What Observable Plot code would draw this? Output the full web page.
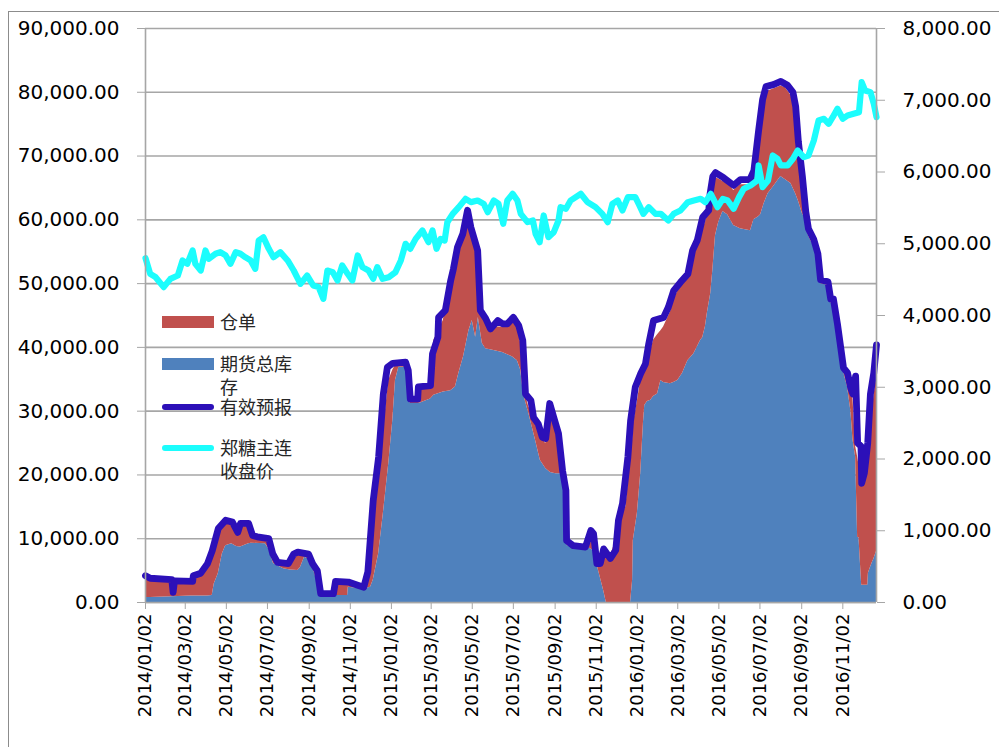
<!DOCTYPE html>
<html><head><meta charset="utf-8">
<script src="https://cdn.jsdelivr.net/npm/d3@7"></script>
<script src="https://cdn.jsdelivr.net/npm/@observablehq/plot@0.6"></script>
<style>
body{margin:0;background:#fff;}
#wrap{position:relative;width:999px;height:747px;overflow:hidden;font-family:"DejaVu Sans",sans-serif;}
#border{position:absolute;left:8px;top:11px;width:1100px;height:900px;border:1px solid #8c8c8c;box-sizing:border-box;}
#chart{position:absolute;left:0;top:0;}
.lg-sw{position:absolute;left:162px;width:52px;}
.lg-tx{position:absolute;left:220px;width:76px;font-family:"Noto Sans CJK SC",sans-serif;font-size:18px;line-height:24px;color:#262626;word-break:break-all;}
</style></head>
<body><div id="wrap"><div id="border"></div><div id="chart"></div><div id="legend"></div></div>
<script>
// ---- x-axis tick labels ----
const tickLabels = ["2014/01/02","2014/03/02","2014/05/02","2014/07/02","2014/09/02","2014/11/02",
"2015/01/02","2015/03/02","2015/05/02","2015/07/02","2015/09/02","2015/11/02",
"2016/01/02","2016/03/02","2016/05/02","2016/07/02","2016/09/02","2016/11/02"];
const leftTicks = [0,10000,20000,30000,40000,50000,60000,70000,80000,90000];
const rightTicks = [0,1000,2000,3000,4000,5000,6000,7000,8000];
const xStart = "2014-01-02", xEnd = "2016-12-22";

// ---- stacked areas: dates, 期货总库存 (bottom), 仓单 (stacked on top) ----
const areaDates = ["2014-01-02","2014-01-09","2014-02-10","2014-03-10","2014-03-14","2014-03-25","2014-04-04","2014-04-11","2014-04-14","2014-04-20","2014-04-26","2014-05-01","2014-05-10","2014-05-17","2014-05-23","2014-06-04","2014-06-08","2014-06-29","2014-07-04","2014-07-11","2014-07-26","2014-08-05","2014-08-16","2014-08-20","2014-08-26","2014-09-02","2014-09-08","2014-09-16","2014-09-20","2014-10-08","2014-10-13","2014-10-29","2014-10-30","2014-11-22","2014-12-02","2014-12-06","2014-12-14","2014-12-21","2014-12-29","2015-01-04","2015-01-08","2015-01-13","2015-01-23","2015-01-27","2015-01-30","2015-02-10","2015-02-14","2015-03-01","2015-03-06","2015-03-20","2015-03-31","2015-04-07","2015-04-12","2015-04-19","2015-04-27","2015-05-02","2015-05-07","2015-05-11","2015-05-17","2015-05-22","2015-06-03","2015-06-16","2015-07-01","2015-07-08","2015-07-13","2015-07-17","2015-07-25","2015-08-04","2015-08-11","2015-08-19","2015-08-26","2015-09-03","2015-09-10","2015-09-15","2015-09-18","2015-09-20","2015-10-20","2015-10-28","2015-11-03","2015-11-13","2015-11-17","2015-11-23","2015-12-01","2015-12-08","2015-12-16","2015-12-23","2015-12-26","2015-12-27","2016-01-02","2016-01-07","2016-01-11","2016-01-13","2016-01-17","2016-01-22","2016-01-26","2016-02-01","2016-02-06","2016-02-10","2016-02-20","2016-02-25","2016-03-02","2016-03-09","2016-03-17","2016-03-26","2016-04-05","2016-04-08","2016-04-12","2016-04-15","2016-04-20","2016-04-23","2016-04-27","2016-05-02","2016-05-08","2016-05-15","2016-05-24","2016-06-03","2016-06-18","2016-06-23","2016-06-30","2016-07-03","2016-07-08","2016-07-14","2016-07-22","2016-08-02","2016-08-09","2016-08-17","2016-08-24","2016-08-28","2016-09-03","2016-09-08","2016-09-12","2016-09-20","2016-09-26","2016-09-30","2016-10-11","2016-10-15","2016-10-19","2016-10-25","2016-10-30","2016-11-03","2016-11-09","2016-11-14","2016-11-17","2016-11-21","2016-11-24","2016-11-26","2016-11-30","2016-12-03","2016-12-09","2016-12-10","2016-12-13","2016-12-16","2016-12-18","2016-12-22"];
const totalStock = [800,800,900,1000,1000,1000,1000,1100,2900,4500,7600,8900,9200,8800,8700,9200,9300,9200,8400,6100,5300,5100,5000,5500,7100,6800,5300,2400,1100,1100,1100,1100,2400,2100,2400,3500,7600,13900,21700,28500,34800,36900,36900,34800,31200,31200,31300,31900,32500,33000,33200,33800,35900,38500,42600,44200,41600,44700,40600,39800,39500,39200,38500,37900,36400,32700,29600,25400,22300,21000,20400,20200,20200,20200,9700,8900,8700,8200,6000,1900,0,0,0,0,0,0,3500,9700,13900,20200,28000,30900,31500,31700,32300,32700,34800,34500,34300,34500,34800,35900,37900,39000,41100,41500,43200,45400,48500,52000,57500,59700,61300,60800,59100,58600,58300,60000,60500,60800,62500,64100,65200,66800,66300,65700,64100,63000,61000,60000,57500,55800,53800,50000,49700,47000,46800,43000,39300,36200,33800,30000,25600,22800,10200,10200,2700,2700,2700,4600,5500,6300,6800,8000];
const receipts = [3000,2800,2500,2300,3100,3500,4800,6700,5900,6500,4400,3700,3100,2000,3500,3000,900,700,1300,700,700,800,2600,2100,400,600,500,600,200,200,1900,1900,500,200,4700,7800,11500,13100,13100,7900,2400,600,600,1200,600,700,2200,1900,8600,11200,16800,19300,19800,19800,18400,14600,14100,5800,4700,3900,3700,4000,5500,5300,4200,1100,1000,3600,4200,3900,10200,7800,4200,300,200,200,200,1500,100,5700,7400,7300,9700,13400,15000,22800,22000,18300,17600,14600,8200,5900,5900,7800,8800,9300,7800,8700,11200,12900,14000,13900,13100,16200,16900,17300,16300,15600,15000,14000,9100,6700,4700,5000,5500,6900,7200,6800,11500,15200,16500,16100,15300,14200,14400,13800,12900,9000,5000,800,500,500,500,500,400,400,500,500,500,500,1700,3500,6600,1700,12600,11300,17900,16300,18500,18900,21700,24200,25400,27500];

// ---- 有效预报 ----
const forecastDates = ["2014-01-02","2014-01-09","2014-02-10","2014-02-12","2014-02-14","2014-03-13","2014-03-14","2014-03-25","2014-04-04","2014-04-11","2014-04-20","2014-05-01","2014-05-11","2014-05-19","2014-05-23","2014-06-04","2014-06-10","2014-06-17","2014-07-04","2014-07-10","2014-07-17","2014-08-02","2014-08-10","2014-08-16","2014-09-01","2014-09-07","2014-09-14","2014-09-19","2014-10-08","2014-10-11","2014-10-30","2014-11-13","2014-11-22","2014-11-28","2014-12-06","2014-12-14","2014-12-21","2014-12-27","2015-01-04","2015-01-23","2015-01-27","2015-01-30","2015-02-10","2015-02-11","2015-03-01","2015-03-04","2015-03-12","2015-03-13","2015-03-23","2015-03-31","2015-04-04","2015-04-10","2015-04-18","2015-04-25","2015-04-30","2015-05-10","2015-05-14","2015-05-22","2015-05-29","2015-06-09","2015-06-16","2015-06-23","2015-07-02","2015-07-10","2015-07-16","2015-07-20","2015-07-28","2015-08-01","2015-08-08","2015-08-14","2015-08-19","2015-08-25","2015-08-31","2015-09-07","2015-09-13","2015-09-18","2015-09-19","2015-09-29","2015-10-17","2015-10-25","2015-10-29","2015-11-03","2015-11-08","2015-11-13","2015-11-23","2015-12-01","2015-12-05","2015-12-11","2015-12-19","2015-12-23","2015-12-30","2016-01-07","2016-01-14","2016-01-19","2016-01-26","2016-02-10","2016-02-17","2016-02-25","2016-03-06","2016-03-17","2016-03-24","2016-03-31","2016-04-08","2016-04-17","2016-04-19","2016-04-23","2016-04-27","2016-05-09","2016-05-24","2016-06-03","2016-06-17","2016-06-23","2016-06-30","2016-07-06","2016-07-11","2016-07-22","2016-08-02","2016-08-12","2016-08-20","2016-08-24","2016-08-28","2016-09-03","2016-09-08","2016-09-12","2016-09-20","2016-09-26","2016-09-30","2016-10-11","2016-10-15","2016-10-19","2016-10-25","2016-10-30","2016-11-03","2016-11-09","2016-11-14","2016-11-17","2016-11-21","2016-11-24","2016-11-29","2016-11-30","2016-12-04","2016-12-09","2016-12-13","2016-12-18","2016-12-22"];
const forecast = [4200,3800,3600,1600,3400,3300,4200,4600,6100,8100,11600,12900,12600,11000,12400,12400,10500,10300,10000,7600,6300,6100,7600,7900,7600,6100,5000,1400,1400,3300,3200,2700,2400,4800,16000,22800,32700,36900,37500,37700,36400,31900,31900,33800,34000,39000,41600,44700,45800,50500,52300,55700,57800,61500,58800,55200,45800,44500,42900,44200,43700,43700,44700,43400,41100,32700,31700,29000,28000,25900,25700,31200,29000,26500,20700,17600,9700,8900,8700,11300,10800,6100,6100,8400,6900,8200,12900,15500,22800,28500,33800,35900,37400,40600,44200,44700,46300,48900,50200,51500,55200,56800,60400,61500,64100,66800,67400,66600,65400,66300,66300,67700,74000,78900,80900,81200,81700,81100,80000,77800,72300,66800,61300,58600,56900,54700,50600,50300,47600,47600,43700,39900,36800,36000,33500,32700,35500,25000,24500,18700,20300,25000,32700,36000,40400];

// ---- 郑糖主连收盘价 (right axis) ----
const priceDates = ["2014-01-02","2014-01-09","2014-01-17","2014-01-29","2014-02-08","2014-02-19","2014-02-26","2014-03-05","2014-03-13","2014-03-17","2014-03-25","2014-04-01","2014-04-06","2014-04-16","2014-04-23","2014-05-01","2014-05-08","2014-05-16","2014-05-23","2014-05-30","2014-06-07","2014-06-14","2014-06-19","2014-06-26","2014-07-04","2014-07-11","2014-07-21","2014-08-01","2014-08-10","2014-08-20","2014-08-30","2014-09-08","2014-09-16","2014-09-23","2014-09-29","2014-10-07","2014-10-14","2014-10-21","2014-10-29","2014-11-05","2014-11-13","2014-11-20","2014-11-29","2014-12-06","2014-12-12","2014-12-20","2014-12-29","2015-01-08","2015-01-16","2015-01-23","2015-01-30","2015-02-07","2015-02-17","2015-02-26","2015-03-04","2015-03-10","2015-03-16","2015-03-22","2015-03-26","2015-04-03","2015-04-12","2015-04-22","2015-04-30","2015-05-10","2015-05-19","2015-05-25","2015-06-03","2015-06-10","2015-06-17","2015-06-23","2015-07-01","2015-07-08","2015-07-13","2015-07-23","2015-07-31","2015-08-04","2015-08-10","2015-08-16","2015-08-23","2015-08-31","2015-09-07","2015-09-10","2015-09-18","2015-09-25","2015-10-10","2015-10-20","2015-11-01","2015-11-11","2015-11-19","2015-11-26","2015-12-04","2015-12-11","2015-12-19","2015-12-26","2015-12-30","2016-01-04","2016-01-11","2016-01-19","2016-01-29","2016-02-06","2016-02-17","2016-02-25","2016-03-06","2016-03-17","2016-03-26","2016-04-05","2016-04-12","2016-04-20","2016-04-30","2016-05-08","2016-05-15","2016-05-24","2016-06-01","2016-06-08","2016-06-18","2016-06-28","2016-06-30","2016-07-06","2016-07-14","2016-07-21","2016-07-28","2016-08-02","2016-08-12","2016-08-20","2016-08-27","2016-09-05","2016-09-12","2016-09-20","2016-09-27","2016-10-05","2016-10-12","2016-10-18","2016-10-25","2016-11-02","2016-11-09","2016-11-18","2016-11-26","2016-11-30","2016-12-05","2016-12-13","2016-12-18","2016-12-22"];
const price = [4800,4581,4534,4395,4511,4557,4767,4720,4906,4720,4627,4906,4790,4860,4883,4837,4720,4883,4860,4813,4767,4650,5045,5091,4929,4813,4883,4767,4627,4441,4557,4418,4395,4232,4627,4604,4488,4697,4581,4488,4837,4674,4627,4511,4674,4511,4534,4604,4767,4999,4929,5068,5185,5022,5185,4929,5068,5045,5300,5417,5510,5626,5580,5603,5556,5440,5603,5556,5278,5603,5696,5603,5417,5301,5324,5138,5022,5394,5092,5162,5324,5510,5487,5603,5696,5580,5510,5417,5301,5556,5603,5464,5650,5650,5650,5556,5417,5510,5417,5417,5324,5417,5464,5580,5603,5626,5580,5696,5510,5626,5603,5487,5650,5766,5812,5882,6091,5789,5882,6230,6184,6091,6091,6184,6300,6207,6230,6439,6718,6741,6672,6764,6881,6741,6787,6811,6834,7252,7136,7113,6950,6764];

// ---- build tables ----
const D = s => new Date(s.replace(/\//g, "-"));
const ratio = 90000 / 8000;
const fmt = d3.format(",.2f");
const areaRows = [];
areaDates.forEach((s, i) => {
  areaRows.push({date: D(s), series: "期货总库存", value: totalStock[i]});
  areaRows.push({date: D(s), series: "仓单", value: receipts[i]});
});
const fRows = forecastDates.map((s, i) => ({date: D(s), value: forecast[i]}));
const pRows = priceDates.map((s, i) => ({date: D(s), value: price[i]}));
const tickDates = tickLabels.map(D);

const BLUE = "#4F81BD", RED = "#C0504D", NAVY = "#2C10B8", CYAN = "#1CFDFD", GRID = "#a6a6a6";

const chart = Plot.plot({
  width: 999, height: 747,
  marginLeft: 145, marginRight: 123, marginTop: 28, marginBottom: 145,
  style: {fontFamily: "'DejaVu Sans', sans-serif", fontSize: "20px", color: "#000", background: "transparent"},
  x: {type: "utc", domain: [D(xStart), D(xEnd)]},
  y: {domain: [0, 90000]},
  color: {domain: ["期货总库存", "仓单"], range: [BLUE, RED]},
  marks: [
    Plot.gridY(leftTicks, {stroke: GRID, strokeOpacity: 1, strokeWidth: 1.6}),
    Plot.areaY(areaRows, {x: "date", y: "value", z: "series", fill: "series", order: ["期货总库存", "仓单"]}),
    Plot.lineY(fRows, {x: "date", y: "value", stroke: NAVY, strokeWidth: 6.8, strokeLinejoin: "round", strokeLinecap: "round"}),
    Plot.lineY(pRows, {x: "date", y: d => d.value * ratio, stroke: CYAN, strokeWidth: 6.2, strokeLinejoin: "round", strokeLinecap: "round"}),
    Plot.ruleX([D(xStart), D(xEnd)], {stroke: GRID, strokeWidth: 1.6}),
    Plot.ruleY([0], {stroke: GRID, strokeWidth: 1.6}),
    Plot.axisY(leftTicks, {anchor: "left", tickSize: 8, tickPadding: 18, tickFormat: fmt, fontSize: 20, stroke: GRID, fill: "#000", label: null}),
    Plot.axisY(rightTicks.map(v => v * ratio), {anchor: "right", tickSize: 8, tickPadding: 18, tickFormat: v => fmt(Math.round(v / ratio)), fontSize: 20, stroke: GRID, fill: "#000", label: null}),
    Plot.axisX(tickDates, {anchor: "bottom", tickRotate: -90, tickSize: 7, tickPadding: 4, tickFormat: d3.utcFormat("%Y/%m/%d"), fontSize: 18, stroke: GRID, fill: "#000", label: null})
  ]
});
document.getElementById("chart").appendChild(chart);

// ---- legend ----
const legendItems = [
  {name: "仓单", kind: "rect", color: RED, cy: 322},
  {name: "期货总库存", kind: "rect", color: BLUE, cy: 364},
  {name: "有效预报", kind: "line", color: NAVY, cy: 407},
  {name: "郑糖主连收盘价", kind: "line", color: CYAN, cy: 448}
];
const lg = document.getElementById("legend");
legendItems.forEach(it => {
  const sw = document.createElement("div");
  sw.className = "lg-sw";
  const h = it.kind === "rect" ? 12 : 6.5;
  sw.style.top = (it.cy - h / 2) + "px";
  sw.style.height = h + "px";
  sw.style.background = it.color;
  if (it.kind === "line") sw.style.borderRadius = "4px";
  lg.appendChild(sw);
  const tx = document.createElement("div");
  tx.className = "lg-tx";
  tx.style.top = (it.cy - 12) + "px";
  tx.style.lineHeight = "23px";
  tx.textContent = it.name;
  lg.appendChild(tx);
});
</script></body></html>
